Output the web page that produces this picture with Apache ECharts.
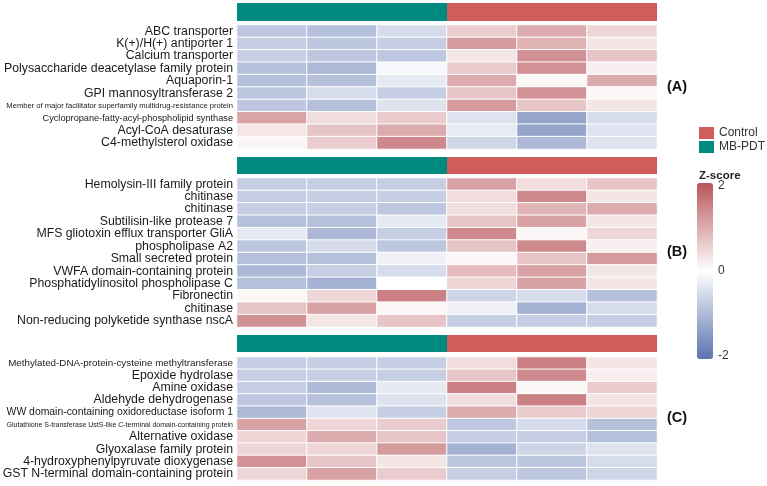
<!DOCTYPE html>
<html>
<head>
<meta charset="utf-8">
<script src="https://cdn.jsdelivr.net/npm/echarts@6/dist/echarts.min.js"></script>
<style>
  html, body { margin: 0; padding: 0; background: #fff; }
  #chart { width: 767px; height: 486px; }
</style>
</head>
<body>
<div id="chart"></div>
<script>
// ---------------- data ----------------
var groups = ['MB-PDT', 'Control'];
var samples = ['MB-PDT 1', 'MB-PDT 2', 'MB-PDT 3', 'Control 1', 'Control 2', 'Control 3'];
var panelTags = ['(A)', '(B)', '(C)'];

var genesA = [
  'ABC transporter',
  'K(+)/H(+) antiporter 1',
  'Calcium transporter',
  'Polysaccharide deacetylase family protein',
  'Aquaporin-1',
  'GPI mannosyltransferase 2',
  'Member of major facilitator superfamily multidrug-resistance protein',
  'Cyclopropane-fatty-acyl-phospholipid synthase',
  'Acyl-CoA desaturase',
  'C4-methylsterol oxidase'
];
var zA = [
  [-0.8, -0.9, -0.5, 0.6, 1.0, 0.5],
  [-0.7, -0.8, -0.7, 1.2, 0.9, 0.3],
  [-0.7, -0.8, -0.8, 0.3, 1.3, 0.7],
  [-0.9, -1.0, -0.1, 0.6, 1.3, 0.2],
  [-0.9, -0.9, -0.3, 1.0, 0.1, 1.0],
  [-0.8, -0.5, -0.7, 0.7, 1.3, 0.1],
  [-0.8, -0.9, -0.4, 1.2, 0.7, 0.3],
  [1.1, 0.4, 0.6, -0.4, -1.3, -0.5],
  [0.3, 0.7, 1.0, -0.3, -1.3, -0.4],
  [0.1, 0.6, 1.4, -0.6, -1.0, -0.4]
];

var genesB = [
  'Hemolysin-III family protein',
  'chitinase ',
  'chitinase  ',
  'Subtilisin-like protease 7',
  'MFS gliotoxin efflux transporter GliA',
  'phospholipase A2',
  'Small secreted protein',
  'VWFA domain-containing protein',
  'Phosphatidylinositol phospholipase C',
  'Fibronectin',
  'chitinase   ',
  'Non-reducing polyketide synthase nscA'
];
var zB = [
  [-0.7, -0.7, -0.7, 1.1, 0.4, 0.7],
  [-0.7, -0.7, -0.7, 0.4, 1.4, 0.3],
  [-0.7, -0.7, -0.8, 0.4, 0.9, 1.0],
  [-0.9, -0.9, -0.3, 0.7, 1.1, 0.3],
  [-0.3, -1.0, -0.7, 1.4, 0.1, 0.5],
  [-0.8, -0.5, -0.8, 0.7, 1.4, 0.2],
  [-0.9, -0.9, -0.2, 0.1, 0.7, 1.2],
  [-1.0, -0.7, -0.5, 0.8, 1.1, 0.3],
  [-0.9, -1.1, 0.0, 0.5, 1.1, 0.3],
  [0.1, 0.5, 1.5, -0.6, -0.5, -0.9],
  [0.7, 1.1, 0.1, -0.2, -1.1, -0.5],
  [1.3, 0.3, 0.7, -0.7, -0.7, -0.7]
];

var genesC = [
  'Methylated-DNA-protein-cysteine methyltransferase',
  'Epoxide hydrolase',
  'Amine oxidase',
  'Aldehyde dehydrogenase',
  'WW domain-containing oxidoreductase isoform 1',
  'Glutathione S-transferase UstS-like C-terminal domain-containing protein',
  'Alternative oxidase',
  'Glyoxalase family protein',
  '4-hydroxyphenylpyruvate dioxygenase',
  'GST N-terminal domain-containing protein'
];
var zC = [
  [-0.7, -0.7, -0.7, 0.4, 1.5, 0.3],
  [-0.7, -0.7, -0.7, 0.7, 1.4, 0.2],
  [-0.7, -1.0, -0.3, 1.5, 0.1, 0.6],
  [-0.8, -0.9, -0.4, 0.4, 1.5, 0.3],
  [-1.0, -0.4, -0.7, 1.0, 0.6, 0.5],
  [1.1, 0.5, 0.6, -0.8, -0.5, -0.9],
  [0.5, 1.0, 0.7, -0.7, -0.7, -0.9],
  [0.5, 0.5, 1.2, -1.1, -0.6, -0.4],
  [1.3, 0.7, 0.3, -0.8, -0.8, -0.5],
  [0.5, 1.1, 0.6, -0.7, -0.8, -0.6]
];

var zTicks = [-2, 0, 2];

// ---------------- styles ----------------
var FONT = '"Liberation Sans", Arial, sans-serif';
var GROUP_COLORS = { 'MB-PDT': '#00897f', 'Control': '#d05c5c' };
var SCALE_COLORS = ['#5a73af', '#ffffff', '#b9565a'];

// labels that are squeezed smaller in the figure
var labelStyle = {
  'Member of major facilitator superfamily multidrug-resistance protein': 'm',
  'Cyclopropane-fatty-acyl-phospholipid synthase': 'c',
  'Methylated-DNA-protein-cysteine methyltransferase': 'd',
  'Glutathione S-transferase UstS-like C-terminal domain-containing protein': 'g',
  'WW domain-containing oxidoreductase isoform 1': 'w'
};
var rich = {
  n: { fontSize: 12.3, fontFamily: FONT, color: '#1a1a1a' },
  m: { fontSize: 7.6, fontFamily: FONT, color: '#1a1a1a' },
  c: { fontSize: 9.2, fontFamily: FONT, color: '#1a1a1a' },
  d: { fontSize: 9.8, fontFamily: FONT, color: '#1a1a1a' },
  g: { fontSize: 7, fontFamily: FONT, color: '#1a1a1a' },
  w: { fontSize: 10.4, fontFamily: FONT, color: '#1a1a1a' }
};

// panel layout: [annotation top, annotation height, heat top, heat height]
var layout = [
  [3, 18, 25, 124],
  [157, 17, 178, 149],
  [335, 17, 357, 123]
];
var LEFT = 237, RIGHT = 110;

var panels = [[genesA, zA], [genesB, zB], [genesC, zC]];

var grids = [], xAxes = [], yAxes = [], series = [], heatIdx = [], graphics = [];

panels.forEach(function (p, k) {
  var genes = p[0], z = p[1], L = layout[k];
  // annotation strip
  grids.push({ left: LEFT, right: RIGHT, top: L[0], height: L[1], outerBoundsMode: 'none' });
  xAxes.push({ type: 'category', gridIndex: grids.length - 1, data: groups, show: false });
  yAxes.push({ type: 'value', gridIndex: grids.length - 1, min: 0, max: 1, show: false });
  groups.forEach(function (g, gi) {
    series.push({
      type: 'bar', name: g, xAxisIndex: xAxes.length - 1, yAxisIndex: yAxes.length - 1,
      barWidth: '100%', barGap: '-100%', silent: true,
      itemStyle: { color: GROUP_COLORS[g] },
      data: groups.map(function (_, j) { return j === gi ? 1 : '-'; })
    });
  });
  // heatmap
  grids.push({ left: LEFT, right: RIGHT, top: L[2], height: L[3], outerBoundsMode: 'none' });
  xAxes.push({ type: 'category', gridIndex: grids.length - 1, data: samples, show: false });
  yAxes.push({
    type: 'category', gridIndex: grids.length - 1, data: genes, inverse: true,
    axisLine: { show: false }, axisTick: { show: false }, splitLine: { show: false },
    axisLabel: {
      margin: 4, interval: 0,
      formatter: function (v) { return '{' + (labelStyle[v] || 'n') + '|' + v.trim() + '}'; },
      rich: rich
    }
  });
  var data = [];
  z.forEach(function (row, i) {
    row.forEach(function (v, j) { data.push([j, i, v]); });
  });
  heatIdx.push(series.length);
  series.push({
    type: 'heatmap', xAxisIndex: xAxes.length - 1, yAxisIndex: yAxes.length - 1,
    itemStyle: { borderColor: '#fff', borderWidth: 1 },
    data: data
  });
  graphics.push({
    type: 'text', left: 667, top: L[2] + L[3] / 2 - 8,
    style: { text: panelTags[k], font: 'bold 14.5px ' + FONT, fill: '#111' }
  });
});

// axis for the colour bar ticks
grids.push({ left: 713, width: 1, top: 186, height: 170, outerBoundsMode: 'none' });
xAxes.push({ type: 'value', gridIndex: grids.length - 1, show: false });
yAxes.push({
  type: 'value', gridIndex: grids.length - 1, min: zTicks[0], max: zTicks[zTicks.length - 1],
  interval: 2, axisLine: { show: false }, axisTick: { show: false }, splitLine: { show: false },
  axisLabel: { margin: 4, fontSize: 12, fontFamily: FONT, color: '#333' },
  position: 'right'
});
series.push({ type: 'scatter', xAxisIndex: xAxes.length - 1, yAxisIndex: yAxes.length - 1, data: [] });

graphics.push({
  type: 'text', left: 699, top: 170,
  style: { text: 'Z-score', font: 'bold 11.5px ' + FONT, fill: '#222' }
});

var chart = echarts.init(document.getElementById('chart'));
chart.setOption({
  animation: false,
  backgroundColor: '#fff',
  grid: grids,
  xAxis: xAxes,
  yAxis: yAxes,
  legend: {
    data: ['Control', 'MB-PDT'], orient: 'vertical', left: 694, top: 122,
    icon: 'rect', itemWidth: 15, itemHeight: 12, itemGap: 2,
    textStyle: { fontSize: 12, fontFamily: FONT, color: '#333' }, selectedMode: false
  },
  visualMap: {
    type: 'continuous', seriesIndex: heatIdx, min: -2, max: 2,
    calculable: false, left: 682, top: 168, itemWidth: 16, itemHeight: 176,
    inRange: { color: SCALE_COLORS }
  },
  graphic: graphics,
  series: series
});
</script>
</body>
</html>
